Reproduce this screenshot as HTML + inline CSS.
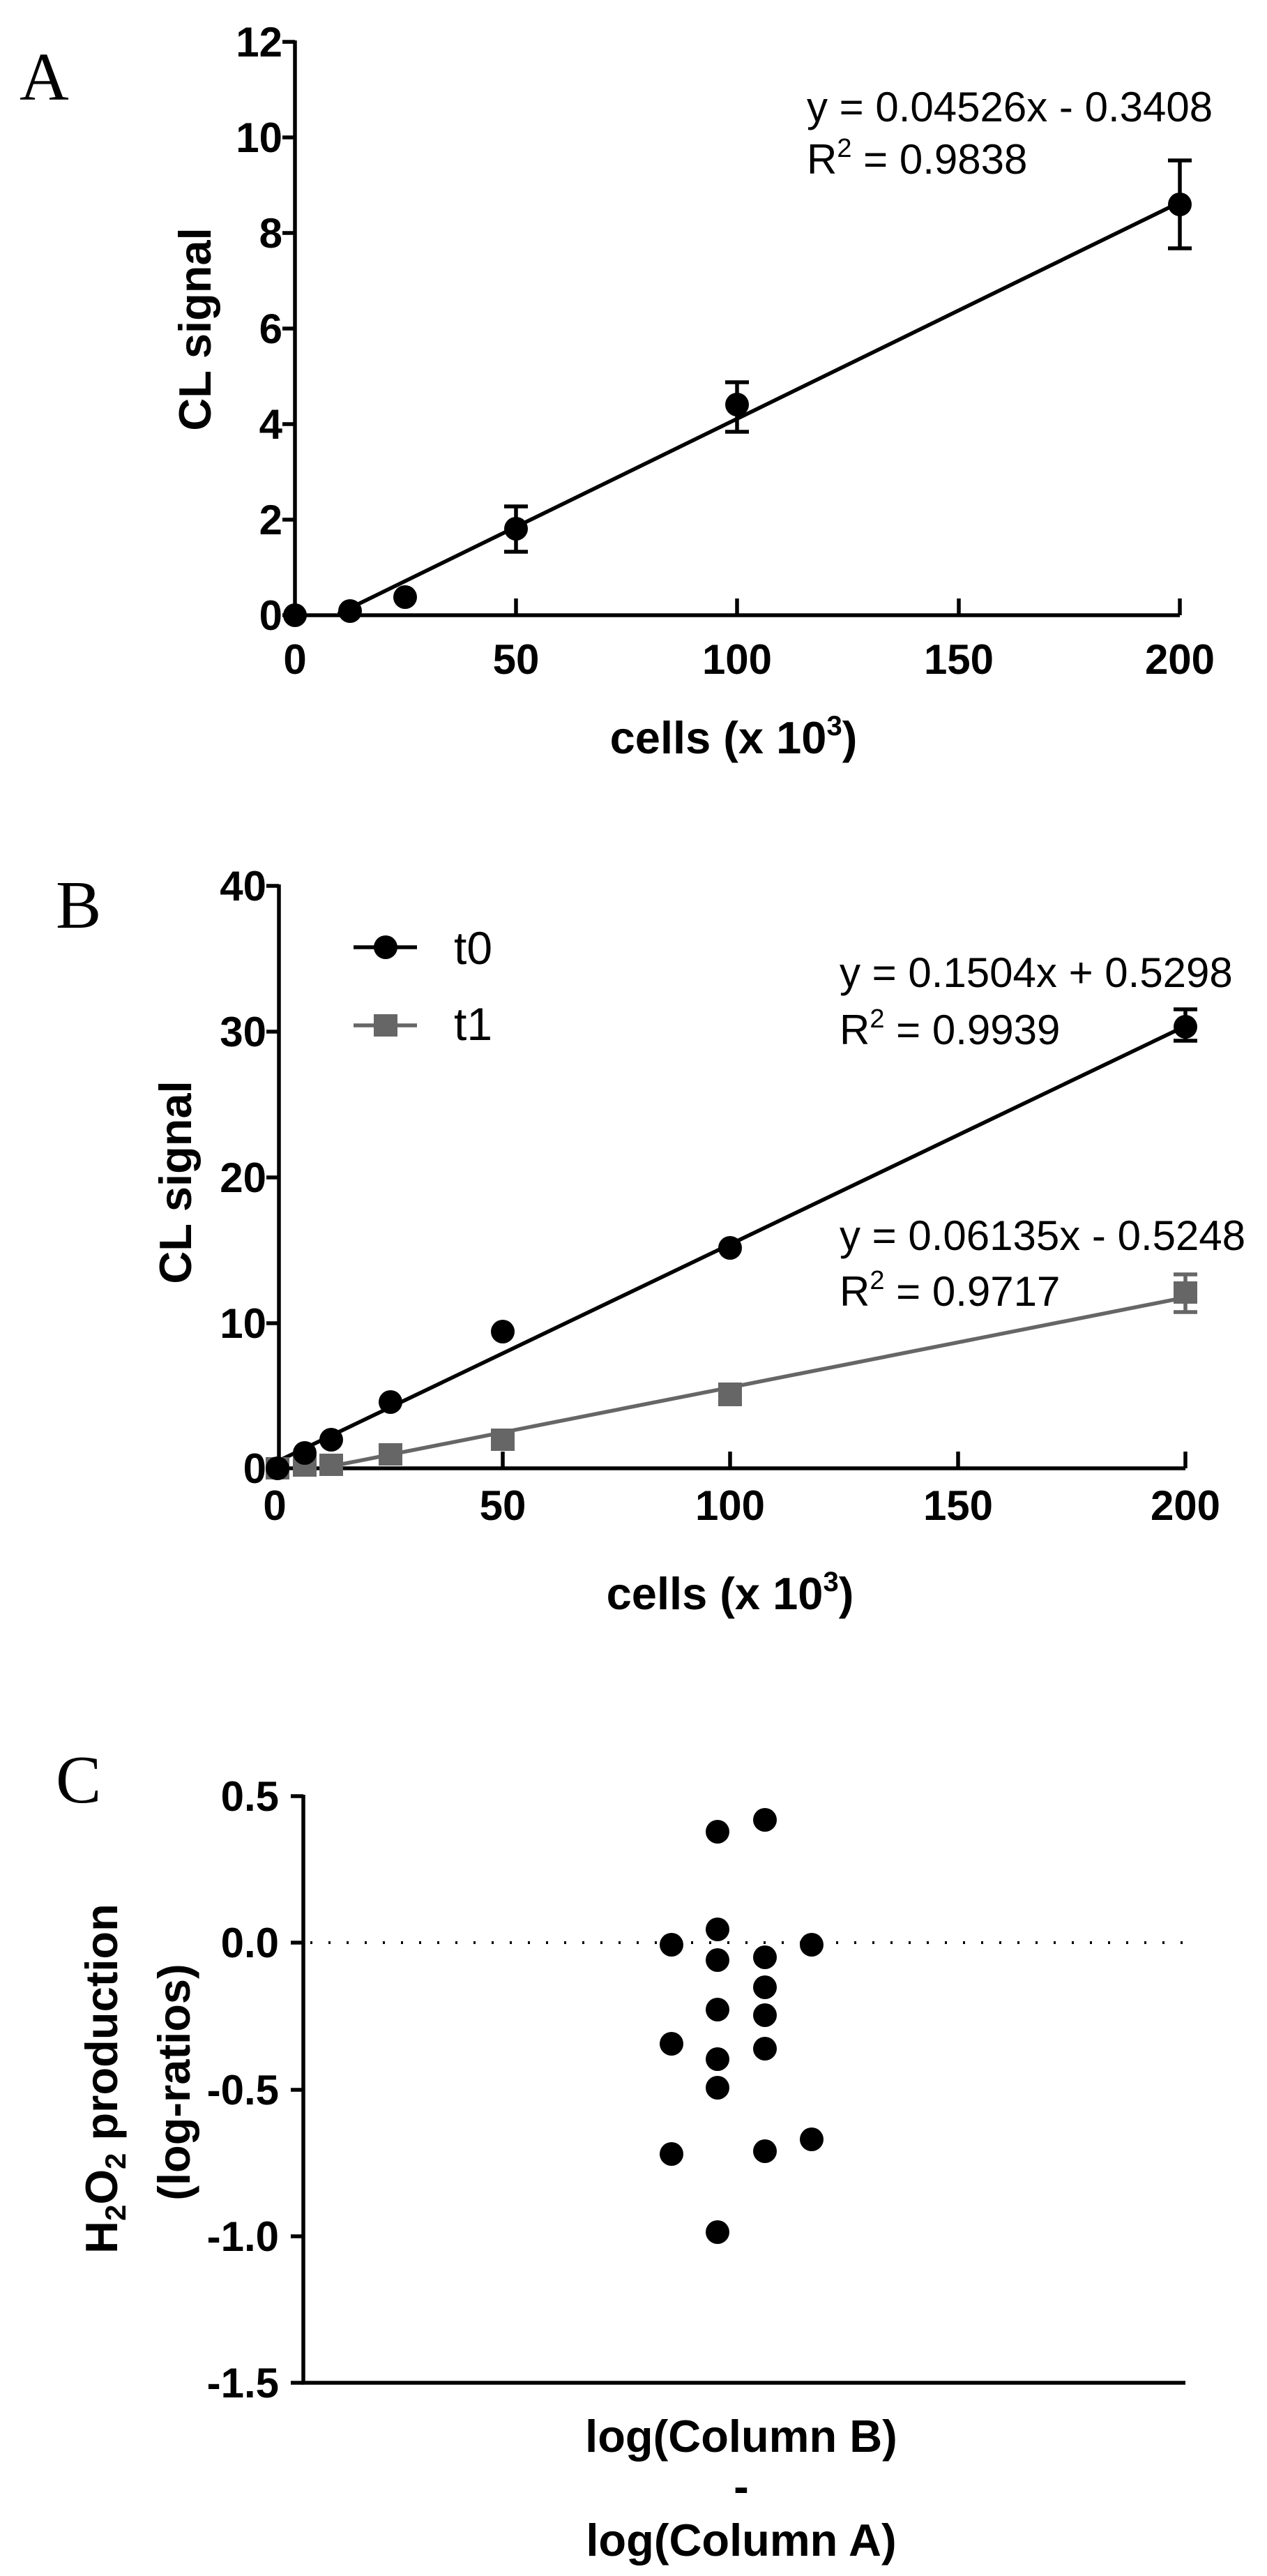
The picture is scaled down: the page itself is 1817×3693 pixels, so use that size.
<!DOCTYPE html>
<html><head><meta charset="utf-8"><style>
html,body{margin:0;padding:0;background:#fff}
svg{display:block}
text{font-family:"Liberation Sans",Arial,sans-serif}
.t{font-weight:bold;font-size:60px}
.ti{font-weight:bold;font-size:65px}
.eq{font-size:60px}
.L{font-family:"Liberation Serif",serif;font-size:98px}
</style></head><body>
<svg width="1817" height="3693" viewBox="0 0 1817 3693" xmlns="http://www.w3.org/2000/svg">
<rect width="1817" height="3693" fill="#fff"/>

<!-- Panel A -->
<text class="L" x="28" y="143">A</text>
<g stroke="#000" stroke-width="5.5" fill="none">
<path d="M423 58 V882 H1692"/>
<path d="M405 60H423 M405 197H423 M405 334H423 M405 471H423 M405 608H423 M405 745H423 M405 882H423"/>
<path d="M740 882V858 M1057 882V858 M1375 882V858 M1692 882V858"/>
<line x1="485" y1="880" x2="1692" y2="290"/>
<path d="M1692 230V356 M1675 230H1709 M1675 356H1709"/>
<path d="M1057 548V619 M1040 548H1074 M1040 619H1074"/>
<path d="M740 726V791 M723 726H757 M723 791H757"/>
</g>
<g fill="#000">
<circle cx="423" cy="882" r="17"/><circle cx="502" cy="876" r="17"/><circle cx="581" cy="856" r="17"/>
<circle cx="740" cy="758" r="17"/><circle cx="1057" cy="580" r="17"/><circle cx="1692" cy="293" r="17"/>
</g>
<g class="t" text-anchor="end">
<text x="405" y="81">12</text><text x="405" y="218">10</text><text x="405" y="355">8</text><text x="405" y="492">6</text>
<text x="405" y="629">4</text><text x="405" y="766">2</text><text x="405" y="903">0</text>
</g>
<g class="t" text-anchor="middle">
<text x="423" y="966">0</text><text x="740" y="966">50</text><text x="1057" y="966">100</text><text x="1375" y="966">150</text><text x="1692" y="966">200</text>
</g>
<text class="ti" text-anchor="middle" x="1052" y="1080">cells (x 10<tspan font-size="40" dy="-26">3</tspan><tspan dy="26">)</tspan></text>
<text class="ti" text-anchor="middle" transform="translate(302,472) rotate(-90)">CL signal</text>
<text class="eq" x="1157" y="174">y = 0.04526x - 0.3408</text>
<text class="eq" x="1157" y="249">R<tspan font-size="38" dy="-24">2</tspan><tspan dy="24"> = 0.9838</tspan></text>

<!-- Panel B -->
<text class="L" x="80" y="1330" font-size="84">B</text>
<g stroke="#000" stroke-width="5.5" fill="none">
<path d="M400 1268 V2105 H1700"/>
<path d="M382 1270H400 M382 1479H400 M382 1688H400 M382 1897H400 M382 2105H400"/>
<path d="M721 2105V2081 M1047 2105V2081 M1374 2105V2081 M1700 2105V2081"/>
<line x1="400" y1="2094" x2="1700" y2="1471"/>
<path d="M1700 1447V1492 M1683 1447H1717 M1683 1492H1717"/>
<line x1="507" y1="1358" x2="598" y2="1358"/>
</g>
<g stroke="#666" stroke-width="5.5" fill="none">
<line x1="460" y1="2105" x2="1700" y2="1860"/>
<path d="M1700 1827V1881 M1683 1827H1717 M1683 1881H1717"/>
<line x1="507" y1="1470" x2="598" y2="1470"/>
</g>
<g fill="#666">
<rect x="381" y="2089" width="34" height="32"/><rect x="420" y="2085" width="34" height="32"/><rect x="458" y="2084" width="34" height="32"/>
<rect x="543" y="2069" width="34" height="32"/><rect x="704" y="2048" width="34" height="32"/><rect x="1030" y="1982" width="34" height="34"/>
<rect x="1683" y="1837" width="34" height="32"/><rect x="536" y="1454" width="34" height="32"/>
</g>
<g fill="#000">
<circle cx="398" cy="2105" r="17"/><circle cx="437" cy="2083" r="17"/><circle cx="475" cy="2064" r="17"/>
<circle cx="560" cy="2010" r="17"/><circle cx="721" cy="1909" r="17"/><circle cx="1047" cy="1789" r="17"/>
<circle cx="1700" cy="1472" r="17"/><circle cx="553" cy="1358" r="17"/>
</g>
<g class="t" text-anchor="end">
<text x="382" y="1291">40</text><text x="382" y="1500">30</text><text x="382" y="1709">20</text><text x="382" y="1918">10</text><text x="382" y="2126">0</text>
</g>
<g class="t" text-anchor="middle">
<text x="394" y="2179">0</text><text x="721" y="2179">50</text><text x="1047" y="2179">100</text><text x="1374" y="2179">150</text><text x="1700" y="2179">200</text>
</g>
<text class="ti" text-anchor="middle" x="1047" y="2307">cells (x 10<tspan font-size="40" dy="-26">3</tspan><tspan dy="26">)</tspan></text>
<text class="ti" text-anchor="middle" transform="translate(274,1695) rotate(-90)">CL signal</text>
<text x="651" y="1382" font-size="66">t0</text>
<text x="651" y="1491" font-size="66">t1</text>
<text class="eq" x="1204" y="1415">y = 0.1504x + 0.5298</text>
<text class="eq" x="1204" y="1497">R<tspan font-size="38" dy="-24">2</tspan><tspan dy="24"> = 0.9939</tspan></text>
<text class="eq" x="1204" y="1792">y = 0.06135x - 0.5248</text>
<text class="eq" x="1204" y="1872">R<tspan font-size="38" dy="-24">2</tspan><tspan dy="24"> = 0.9717</tspan></text>

<!-- Panel C -->
<text class="L" x="80" y="2584" font-size="86">C</text>
<g stroke="#000" stroke-width="5.5" fill="none">
<path d="M435 2573 V3416 H1700"/>
<path d="M417 2575H435 M417 2785H435 M417 2996H435 M417 3206H435 M417 3416H435"/>
</g>
<line x1="445" y1="2785" x2="1700" y2="2785" stroke="#000" stroke-width="4" stroke-dasharray="3 23"/>
<g fill="#000">
<circle cx="963" cy="2788" r="17"/><circle cx="963" cy="2930" r="17"/><circle cx="963" cy="3088" r="17"/>
<circle cx="1029" cy="2626" r="17"/><circle cx="1029" cy="2766" r="17"/><circle cx="1029" cy="2810" r="17"/>
<circle cx="1029" cy="2881" r="17"/><circle cx="1029" cy="2952" r="17"/><circle cx="1029" cy="2993" r="17"/><circle cx="1029" cy="3200" r="17"/>
<circle cx="1097" cy="2609" r="17"/><circle cx="1097" cy="2806" r="17"/><circle cx="1097" cy="2849" r="17"/>
<circle cx="1097" cy="2889" r="17"/><circle cx="1097" cy="2937" r="17"/><circle cx="1097" cy="3084" r="17"/>
<circle cx="1164" cy="2788" r="17"/><circle cx="1164" cy="3067" r="17"/>
</g>
<g class="t" text-anchor="end">
<text x="400" y="2596">0.5</text><text x="400" y="2806">0.0</text><text x="400" y="3017">-0.5</text><text x="400" y="3227">-1.0</text><text x="400" y="3437">-1.5</text>
</g>
<g class="ti" text-anchor="middle">
<text x="1063" y="3515">log(Column B)</text>
<text x="1063" y="3587">-</text>
<text x="1063" y="3664">log(Column A)</text>
<text transform="translate(168,2980) rotate(-90)">H<tspan font-size="42" dy="12">2</tspan><tspan dy="-12">O</tspan><tspan font-size="42" dy="12">2</tspan><tspan dy="-12"> production</tspan></text>
<text transform="translate(272,2985) rotate(-90)">(log-ratios)</text>
</g>
</svg>
</body></html>
